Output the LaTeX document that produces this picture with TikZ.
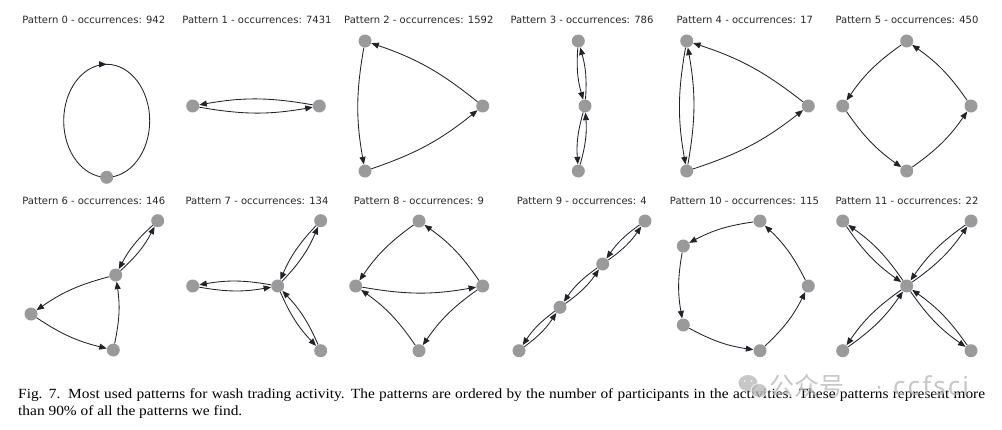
\documentclass[tikz,border=0pt]{standalone}
\usepackage{graphicx}
\usepackage{fontspec}
\setmainfont{Liberation Serif}
\newfontfamily\dejavu{DejaVu Sans}
\newfontfamily\cjk{Noto Sans CJK SC}
\newfontfamily\wmsans{Noto Sans}
\usetikzlibrary{arrows.meta,backgrounds,decorations.markings}
\definecolor{nodegray}{HTML}{9A9A9A}
\definecolor{edgecol}{HTML}{22222A}
\definecolor{wmgray}{HTML}{B4B4B4}
\newcommand\mylens[2]{\draw[arr] (#1) to (#2); \draw[arr] (#2) to (#1);}
\begin{document}
\begin{tikzpicture}[x=1pt,y=1pt,
  vtx/.style={circle,fill=nodegray,draw=none,minimum size=13pt,inner sep=0pt},
  arr/.style={draw=edgecol,line width=0.85pt,-{Triangle[length=7.5pt,width=6pt]},bend right=10},
  ptitle/.style={font=\fontsize{10}{12}\dejavu,text=black!85,inner sep=0pt,anchor=base},
  captxt/.style={anchor=base west,inner sep=0pt,font=\fontsize{14}{17}\selectfont},
  wm/.style={text=wmgray,inner sep=0pt,anchor=base west,opacity=0.75}]
\useasboundingbox (0,0) rectangle (1002,-429);

% ---- titles ----
\node[ptitle] (t0) at (93.8,-23.3) {Pattern 0 - occurrences: 942};
\node[ptitle] (t1) at (257,-23.3) {Pattern 1 - occurrences: 7431};
\node[ptitle] (t2) at (418.8,-23.3) {Pattern 2 - occurrences: 1592};
\node[ptitle] (t3) at (582,-23.3) {Pattern 3 - occurrences: 786};
\node[ptitle] (t4) at (744.8,-23.3) {Pattern 4 - occurrences: 17};
\node[ptitle] (t5) at (907,-23.3) {Pattern 5 - occurrences: 450};
\node[ptitle] (t6) at (93.8,-204) {Pattern 6 - occurrences: 146};
\node[ptitle] (t7) at (257,-204) {Pattern 7 - occurrences: 134};
\node[ptitle] (t8) at (419,-204) {Pattern 8 - occurrences: 9};
\node[ptitle] (t9) at (581.8,-204) {Pattern 9 - occurrences: 4};
\node[ptitle] (t10) at (744.5,-204) {Pattern 10 - occurrences: 115};
\node[ptitle] (t11) at (907,-204) {Pattern 11 - occurrences: 22};

% ---- Pattern 0 ----
\node[vtx] (a0) at (106.7,-177.3) {};
\begin{scope}[on background layer]
\draw[draw=edgecol,line width=0.85pt,postaction={decorate},
  decoration={markings,mark=at position 0.5 with {\arrow{Triangle[length=7.5pt,width=6pt]}}}]
  (a0.center) arc[start angle=-90,end angle=-450,x radius=43,y radius=56.5];
\end{scope}

% ---- Pattern 1 ----
\node[vtx] (b1) at (192.7,-106) {};
\node[vtx] (b2) at (319.3,-106) {};
\mylens{b1}{b2}

% ---- Pattern 2 ----
\node[vtx] (c1) at (365,-41) {};
\node[vtx] (c2) at (482.7,-106) {};
\node[vtx] (c3) at (365,-171) {};
\draw[arr] (c1) to (c3);
\draw[arr] (c3) to (c2);
\draw[arr] (c2) to (c1);

% ---- Pattern 3 ----
\node[vtx] (d1) at (578.3,-41) {};
\node[vtx] (d2) at (585,-106) {};
\node[vtx] (d3) at (578.3,-171) {};
\mylens{d1}{d2}
\mylens{d2}{d3}

% ---- Pattern 4 ----
\node[vtx] (e1) at (686.7,-41) {};
\node[vtx] (e2) at (808.3,-106) {};
\node[vtx] (e3) at (686.7,-171) {};
\mylens{e1}{e3}
\draw[arr] (e3) to (e2);
\draw[arr] (e2) to (e1);

% ---- Pattern 5 ----
\node[vtx] (f1) at (906.7,-41) {};
\node[vtx] (f2) at (842.7,-106) {};
\node[vtx] (f3) at (971,-106) {};
\node[vtx] (f4) at (906.7,-171) {};
\draw[arr] (f1) to (f2);
\draw[arr] (f2) to (f4);
\draw[arr] (f4) to (f3);
\draw[arr] (f3) to (f1);

% ---- Pattern 6 ----
\node[vtx] (g1) at (157.7,-220.7) {};
\node[vtx] (g2) at (115.7,-275) {};
\node[vtx] (g3) at (31,-314) {};
\node[vtx] (g4) at (113.3,-350) {};
\mylens{g1}{g2}
\draw[arr] (g2) to (g3);
\draw[arr] (g3) to (g4);
\draw[arr] (g4) to (g2);

% ---- Pattern 7 ----
\node[vtx] (h1) at (192.7,-286) {};
\node[vtx] (h2) at (277.7,-286) {};
\node[vtx] (h3) at (320.7,-220.7) {};
\node[vtx] (h4) at (320.7,-350.7) {};
\mylens{h1}{h2}
\mylens{h2}{h3}
\mylens{h2}{h4}

% ---- Pattern 8 ----
\node[vtx] (i1) at (419,-221) {};
\node[vtx] (i2) at (355.7,-286) {};
\node[vtx] (i3) at (482.7,-286) {};
\node[vtx] (i4) at (419,-350.7) {};
\draw[arr] (i1) to (i2);
\draw[arr] (i2) to (i3);
\draw[arr] (i3) to (i1);
\draw[arr] (i3) to (i4);
\draw[arr] (i4) to (i2);

% ---- Pattern 9 ----
\node[vtx] (j1) at (645,-221) {};
\node[vtx] (j2) at (602.7,-264) {};
\node[vtx] (j3) at (560,-307.3) {};
\node[vtx] (j4) at (519,-350.7) {};
\mylens{j1}{j2}
\mylens{j2}{j3}
\mylens{j3}{j4}

% ---- Pattern 10 ----
\node[vtx] (k1) at (760,-221) {};
\node[vtx] (k2) at (683.3,-246) {};
\node[vtx] (k3) at (683.3,-325) {};
\node[vtx] (k4) at (760,-350.7) {};
\node[vtx] (k5) at (808.3,-286) {};
\draw[arr] (k1) to (k2);
\draw[arr] (k2) to (k3);
\draw[arr] (k3) to (k4);
\draw[arr] (k4) to (k5);
\draw[arr] (k5) to (k1);

% ---- Pattern 11 ----
\node[vtx] (l0) at (906.7,-286) {};
\node[vtx] (l1) at (842.7,-221) {};
\node[vtx] (l2) at (971,-221) {};
\node[vtx] (l3) at (842.7,-350.7) {};
\node[vtx] (l4) at (971,-350.7) {};
\mylens{l0}{l1}
\mylens{l0}{l2}
\mylens{l0}{l3}
\mylens{l0}{l4}

% ---- caption ----
\node[captxt] (cap1) at (18,-398.3) {\scalebox{1.1}[1]{\makebox[879pt][s]{Fig. 7.\hspace{0.5em}Most used patterns for wash trading activity. The patterns are ordered by the number of participants in the activities. These patterns represent more}}};
\node[captxt] (cap2) at (18,-415) {\scalebox{1.1}[1]{than 90\% of all the patterns we find.}};

% ---- watermark ----
\begin{scope}[opacity=0.75]
\fill[wmgray] (748,-383) ellipse[x radius=9.5,y radius=8];
\fill[wmgray,draw=white,line width=1pt] (759,-390.5) ellipse[x radius=8,y radius=7];
\fill[white] (744.5,-381) circle (1.2) (751.5,-381) circle (1.2);
\end{scope}
\node[wm] (wm1) at (769,-395) {\fontsize{25}{25}\cjk 公众号};
\node[wm] (wm2) at (876,-395) {\fontsize{22}{22}\wmsans ·};
\node[wm] (wm3) at (893,-395) {\fontsize{26}{26}\wmsans\addfontfeature{LetterSpace=8}ccfsci};
\end{tikzpicture}
\end{document}
